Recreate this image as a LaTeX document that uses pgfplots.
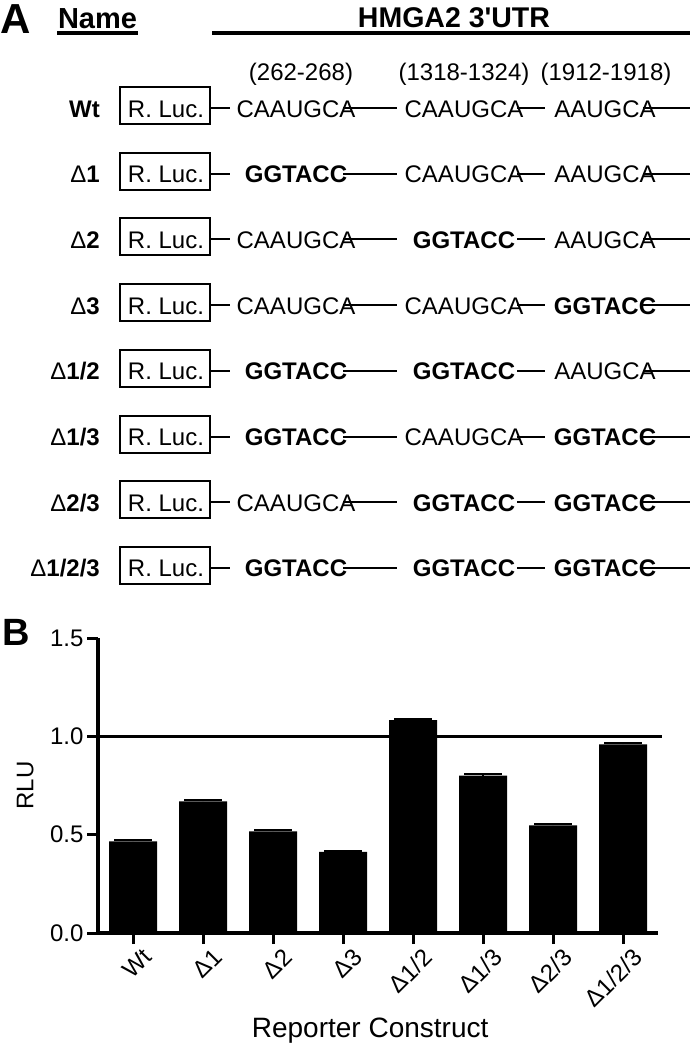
\documentclass[border=0pt]{standalone}
\usepackage{fontspec}
\setmainfont{Liberation Sans}
\usepackage{pgfplots}
\pgfplotsset{compat=1.18}
\newcommand\fs[1]{\fontsize{#1bp}{#1bp}\selectfont}
\newcommand\mut{\textbf{GGTACC}}
\begin{document}
\begin{tikzpicture}[x=1bp,y=1bp]
\useasboundingbox (0,0) rectangle (693,-1054);
% ---- panel A: construct scheme
\node[anchor=base west,inner sep=0,font=\fs{42}\bfseries] at (0,-33) {A};
\node[anchor=base,inner sep=0,font=\fs{29}\bfseries] at (97.5,-28) {Name};
\draw[line width=3.5bp] (57,-33) -- (138,-33);
\node[anchor=base,inner sep=0,font=\fs{28.5}\bfseries] at (454,-27) {HMGA2 3\textquotesingle UTR};
\draw[line width=3.5bp] (212,-33) -- (690,-33);
\node[anchor=base,inner sep=0,font=\fs{24}] at (301,-80) {(262-268)};
\node[anchor=base,inner sep=0,font=\fs{24}] at (464,-80) {(1318-1324)};
\node[anchor=base,inner sep=0,font=\fs{24}] at (606,-80) {(1912-1918)};
\foreach \i/\nm/\a/\b/\c in {0/{\textbf{Wt}}/0/0/0, 1/{Δ\textbf{1}}/1/0/0, 2/{Δ\textbf{2}}/0/1/0,
  3/{Δ\textbf{3}}/0/0/1, 4/{Δ\textbf{1/2}}/1/1/0, 5/{Δ\textbf{1/3}}/1/0/1,
  6/{Δ\textbf{2/3}}/0/1/1, 7/{Δ\textbf{1/2/3}}/1/1/1}{
  \pgfmathsetmacro\yc{-(108+65.7*\i)}
  \node[anchor=base east,inner sep=0,font=\fs{24}] at (100,\yc-9) {\nm};
  \draw[line width=2bp] (120,\yc+21) rectangle (210,\yc-16);
  \node[anchor=base,inner sep=0,font=\fs{24}] at (166,\yc-9) {R. Luc.};
  \draw[line width=2bp] (210,\yc) -- (230,\yc) (343,\yc) -- (397,\yc)
    (517,\yc) -- (545,\yc) (643,\yc) -- (690,\yc);
  \node[anchor=base,inner sep=0,font=\fs{24}] at (296,\yc-9) {\ifnum\a=1 \mut\else CAAUGCA\fi};
  \node[anchor=base,inner sep=0,font=\fs{24}] at (464,\yc-9) {\ifnum\b=1 \mut\else CAAUGCA\fi};
  \node[anchor=base,inner sep=0,font=\fs{24}] at (605,\yc-9) {\ifnum\c=1 \mut\else AAUGCA\fi};
}
% ---- panel B: luciferase assay
\node[anchor=base west,inner sep=0,font=\fs{38}\bfseries] at (2,-645) {B};
\begin{axis}[at={(98bp,-933bp)}, anchor=south west, scale only axis,
  width=560bp, height=295bp,
  xmin=-0.5, xmax=7.5, ymin=0, ymax=1.5,
  axis lines=left, axis line style={line width=3.3bp,-},
  tick style={line width=3bp,black}, major tick length=11bp, tick align=outside,
  xtick={0,...,7},
  xticklabels={Wt,Δ1,Δ2,Δ3,Δ1/2,Δ1/3,Δ2/3,Δ1/2/3},
  xticklabel style={rotate=45,anchor=east,inner sep=0pt,xshift=4bp,yshift=-17bp},
  ytick={0,0.5,1,1.5},
  yticklabel style={/pgf/number format/.cd,fixed,fixed zerofill,precision=1},
  /pgf/number format/assume math mode=true,
  ticklabel style={font=\fs{24}},
  ylabel={RLU},
  ylabel style={font=\fs{24},at={(axis description cs:-0.13,0.5)},anchor=center},
  xlabel={Reporter Construct},
  xlabel style={font=\fs{28},at={(axis description cs:0.486,-0.33)},anchor=center},
  clip=false]
  \addplot[ybar, bar width=48bp, fill=black, draw=none,
    error bars/.cd, y dir=plus, y explicit,
    error bar style={line width=2bp,black},
    error mark options={rotate=90,mark size=19bp,line width=2bp,black}]
    coordinates {(0,0.466) +- (0,0.006) (1,0.670) +- (0,0.006) (2,0.517) +- (0,0.006)
      (3,0.413) +- (0,0.006) (4,1.083) +- (0,0.007) (5,0.800) +- (0,0.007)
      (6,0.547) +- (0,0.007) (7,0.959) +- (0,0.008)};
  \addplot[black, line width=3.3bp, no marks] coordinates {(-0.5,1) (7.55,1)};
\end{axis}
\end{tikzpicture}
\end{document}
